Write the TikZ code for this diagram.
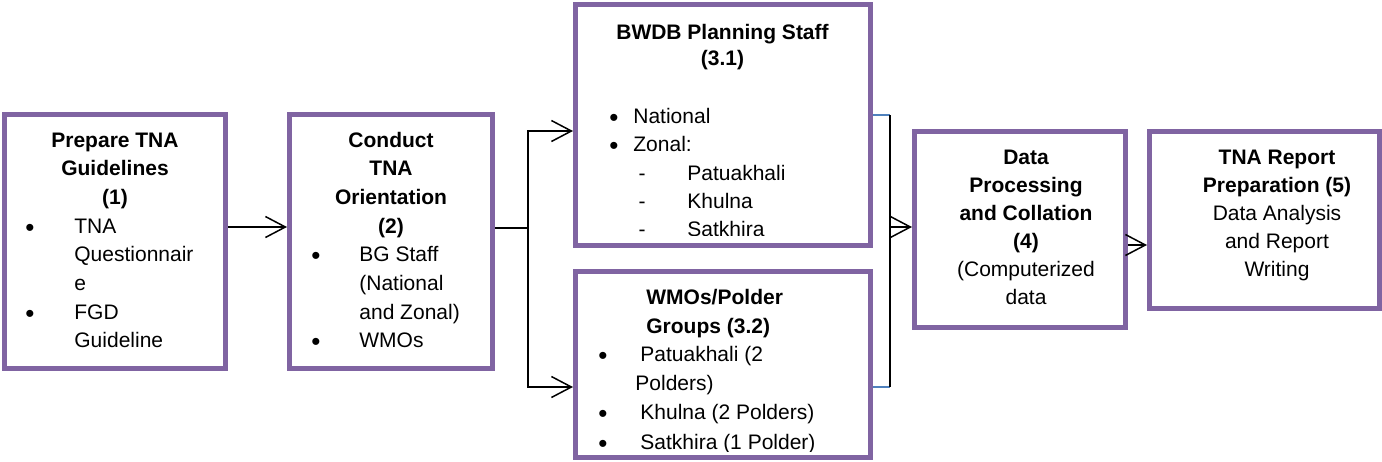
\documentclass[tikz,border=0pt]{standalone}
\usepackage{fontspec}
\setmainfont{Liberation Sans}
\usetikzlibrary{arrows.meta}
\definecolor{boxpurple}{HTML}{8064A2}
\definecolor{stubblue}{HTML}{4F81BD}
\begin{document}
\begin{tikzpicture}[x=0.5pt,y=-0.5pt,
  font=\fontsize{10.5}{12.6}\selectfont,
  box/.style={draw=boxpurple, line width=2.5pt, inner sep=0pt},
  hd/.style={font=\fontsize{10.5}{12.6}\selectfont\bfseries, anchor=base, inner sep=0pt},
  hdl/.style={hd, anchor=base west},
  ctx/.style={anchor=base, inner sep=0pt},
  tx/.style={anchor=base west, inner sep=0pt},
  dot/.style={anchor=base, inner sep=0pt, yshift=-1.5pt, font=\fontsize{13}{13}\selectfont},
  ln/.style={draw=black, line width=0.75pt},
  stub/.style={draw=stubblue, line width=0.6pt},
  arr/.style={ln, -{Straight Barb[length=10pt,width=10.5pt,line width=0.75pt]}}]
\useasboundingbox (0,0) rectangle (1382,461);

% ---------- boxes ----------
\node[box, minimum width=110.5pt, minimum height=127pt] (b1)  at (115,241.5) {};
\node[box, minimum width=101.5pt, minimum height=127pt] (b2)  at (391,241.5) {};
\node[box, minimum width=147.5pt, minimum height=120.5pt] (b31) at (723,125) {};
\node[box, minimum width=147.5pt, minimum height=93pt]   (b32) at (723,364.5) {};
\node[box, minimum width=105.5pt, minimum height=98pt]   (b4)  at (1020,229.5) {};
\node[box, minimum width=115pt,   minimum height=88.5pt] (b5)  at (1264.5,220) {};

% ---------- box 1 ----------
\foreach \s [count=\i] in {Prepare TNA, Guidelines, {(1)}}
  \node[hd] (h1-\i) at (115,{147+(\i-1)*28.7}) {\s};
\foreach \yy [count=\i] in {233.1,319.2}
  \node[dot] (d1-\i) at (30,\yy) {•};
\foreach \s [count=\i] in {TNA, Questionnair, e, FGD, Guideline}
  \node[tx] (l1-\i) at (74,{233.1+(\i-1)*28.7}) {\s};

% ---------- box 2 ----------
\foreach \s [count=\i] in {Conduct, TNA, Orientation, {(2)}}
  \node[hd] (h2-\i) at (391,{147+(\i-1)*28.7}) {\s};
\foreach \yy [count=\i] in {261.8,347.9}
  \node[dot] (d2-\i) at (316,\yy) {•};
\foreach \s [count=\i] in {BG Staff, {(National}, {and Zonal)}, WMOs}
  \node[tx] (l2-\i) at (359,{261.8+(\i-1)*28.7}) {\s};

% ---------- box 3.1 ----------
\begin{scope}
  \clip (578,7) rectangle (868,235);
  \node[hd] (h31-1) at (722.5,39.3) {BWDB Planning Staff};
  \node[hd] (h31-2) at (722.5,65) {(3.1)};
  \node[dot] (d31-1) at (614,123.5) {•};
  \node[dot] (d31-2) at (614,151.8) {•};
  \node[tx] (l31-1) at (633,123.5) {National};
  \node[tx] (l31-2) at (633,151.8) {Zonal:};
  \foreach \s [count=\i] in {Patuakhali, Khulna, Satkhira}{
    \node[ctx] (m31-\i) at (642,{180.1+(\i-1)*28.3}) {-};
    \node[tx] (z31-\i) at (687,{180.1+(\i-1)*28.3}) {\s};
  }
\end{scope}

% ---------- box 3.2 ----------
\begin{scope}
  \clip (578,274) rectangle (868,451);
  \node[hdl] (h32-1) at (646,304.5) {WMOs/Polder};
  \node[hdl] (h32-2) at (646,333.2) {Groups (3.2)};
  \foreach \yy [count=\i] in {361.9,419.3,449.5}
    \node[dot] (d32-\i) at (603,\yy) {•};
  \node[tx] (l32-1) at (640,361.9) {Patuakhali (2};
  \node[tx] (l32-2) at (635,390.6) {Polders)};
  \node[tx] (l32-3) at (640,419.3) {Khulna (2 Polders)};
  \node[tx] (l32-4) at (640,449.5) {Satkhira (1 Polder)};
\end{scope}

% ---------- box 4 ----------
\foreach \s [count=\i] in {Data, Processing, and Collation, {(4)}}
  \node[hd] (h4-\i) at (1026,{164.3+(\i-1)*28.1}) {\s};
\node[ctx] (l4-1) at (1026,276.7) {(Computerized};
\node[ctx] (l4-2) at (1026,304.8) {data};

% ---------- box 5 ----------
\node[hd] (h5-1) at (1277,164.3) {TNA Report};
\node[hd] (h5-2) at (1277,192.4) {Preparation (5)};
\foreach \s [count=\i] in {Data Analysis, and Report, Writing}
  \node[ctx] (l5-\i) at (1277,{220.5+(\i-1)*28.1}) {\s};

% ---------- connectors ----------
\coordinate (y12) at (0,227);
\draw[arr] (b1.east |- y12) -- (b2.west |- y12);

\coordinate (fork) at (528,228);
\coordinate (fa) at (528,131);
\coordinate (fb) at (528,387);
\draw[ln] (b2.east |- fork) -- (fork);
\draw[arr] (fork) |- (b31.west |- fa);
\draw[arr] (fork) |- (b32.west |- fb);

\coordinate (ja) at (890,115);
\coordinate (jb) at (890,387);
\coordinate (jm) at (890,227);
\draw[stub] (b31.east |- ja) -- (ja);
\draw[stub] (b32.east |- jb) -- (jb);
\draw[ln] (ja) -- (jb);
\draw[arr] (jm) -- (b4.west |- jm);

\coordinate (y45) at (0,245);
\draw[arr] (b4.east |- y45) -- (b5.west |- y45);
\end{tikzpicture}
\end{document}
